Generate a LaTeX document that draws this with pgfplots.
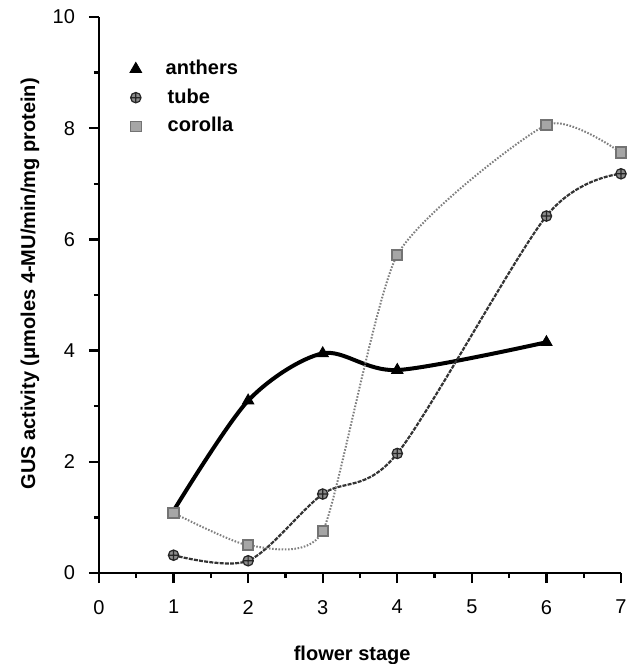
\documentclass[border=0pt]{standalone}
\usepackage{pgfplots}
\pgfplotsset{compat=1.18}
\usepackage{fontspec}
\setmainfont{Liberation Sans}

\pgfplotstableread{
x y
1 1.12
2 3.10
3 3.95
4 3.65
6 4.15
}\anthers
\pgfplotstableread{
x y
1 0.32
2 0.22
3 1.42
4 2.15
6 6.42
7 7.18
}\tube
\pgfplotstableread{
x y
1 1.08
2 0.50
3 0.75
4 5.72
6 8.06
7 7.56
}\corolla

\begin{document}
\begin{tikzpicture}
\begin{axis}[
  width=261pt, height=278pt, scale only axis,
  xmin=0, xmax=7, ymin=0, ymax=10,
  axis lines=left,
  axis line style={line width=1.2pt, -},
  xtick={0,1,...,7}, ytick={0,2,...,10},
  minor xtick={0.5,1.5,...,6.5}, minor ytick={1,3,...,9},
  tick align=outside,
  tick style={line width=1.2pt, black},
  major tick length=5pt, minor tick length=2.5pt,
  tick label style={font=\fontsize{10}{12}\selectfont},
  xticklabel style={yshift=-5pt},
  yticklabel style={xshift=-3.5pt},
  /pgf/number format/assume math mode=true,
  xlabel={flower stage},
  ylabel={GUS activity (μmoles 4-MU/min/mg protein)},
  label style={font=\fontsize{10}{12}\selectfont\bfseries},
  xlabel style={at={(axis description cs:0.485,-0.1475)}, anchor=center},
  ylabel style={at={(axis description cs:-0.132,0.52)}, anchor=center},
  clip=false,
  legend cell align=left,
  legend style={at={(axis description cs:0.047,0.937)}, anchor=north west,
    draw=none, fill=none, font=\fontsize{10}{12}\selectfont\bfseries,
    row sep=1.5pt},
]
\addlegendimage{only marks, mark=triangle*, mark size=3.4pt, black}
\addlegendentry{\hspace{10pt}anthers}
\addlegendimage{only marks, mark=oplus*, mark size=2.6pt, draw=black!85, fill=black!45, line width=0.6pt}
\addlegendentry{\hspace{11pt}tube}
\addlegendimage{only marks, mark=square*, mark size=2.6pt, draw=black!55, fill=black!35}
\addlegendentry{\hspace{11pt}corolla}

\addplot[forget plot, black, line width=2pt, smooth, mark=triangle*, mark size=3.2pt,
  mark indices={2,3,4,5}, mark options={solid, line width=0.5pt}] table[x=x,y=y] {\anthers};
\addplot[forget plot, black!80, line width=1.1pt, smooth, dash pattern=on 2pt off 0.6pt,
  mark=oplus*, mark size=2.6pt, mark options={solid, draw=black!85, fill=black!45, line width=0.6pt}] table[x=x,y=y] {\tube};
\addplot[forget plot, black!50, line width=1pt, smooth, tension=0.35, dash pattern=on 0.8pt off 0.8pt,
  mark=square*, mark size=2.6pt, mark options={solid, draw=black!55, fill=black!35}] table[x=x,y=y] {\corolla};
\end{axis}
\pgfresetboundingbox
\path[use as bounding box] ([shift={(-49.5pt,-45.5pt)}]current axis.south west) rectangle ([shift={(5.5pt,8.5pt)}]current axis.north east);
\end{tikzpicture}
\end{document}
